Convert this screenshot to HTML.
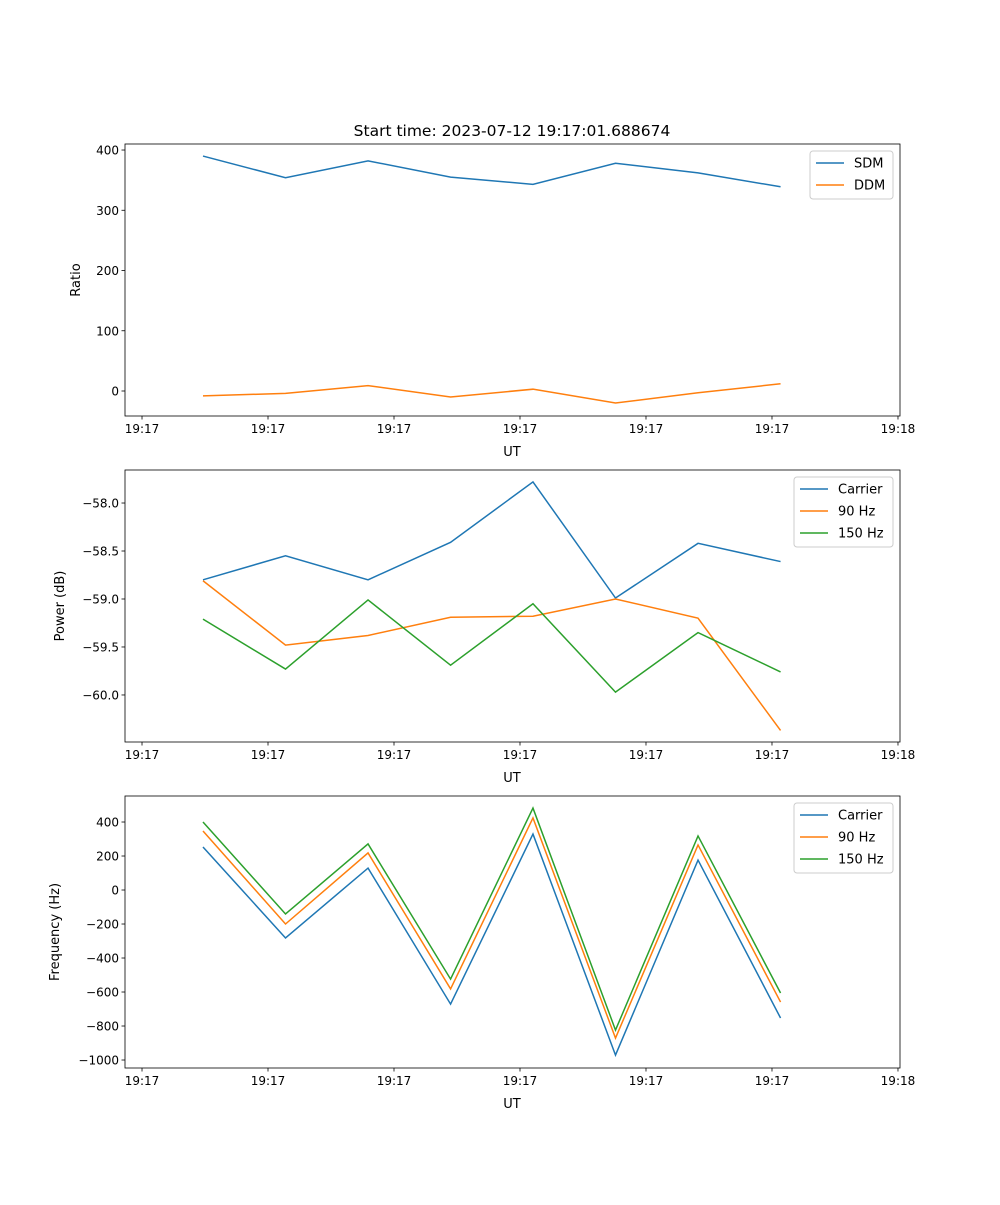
<!DOCTYPE html>
<html><head><meta charset="utf-8"><style>
body{margin:0;background:#fff;font-family:"Liberation Sans","DejaVu Sans",sans-serif}
svg text{font-family:"DejaVu Sans","Liberation Sans",sans-serif}
</style></head><body>
<svg id="fig" width="1000" height="1200" xmlns="http://www.w3.org/2000/svg"></svg>
<script>
const times = [4.84, 11.39, 17.94, 24.49, 31.03, 37.58, 44.13, 50.68];
const xTickVals = [0, 10, 20, 30, 40, 50, 60];
const xTickLabels = ["19:17","19:17","19:17","19:17","19:17","19:17","19:18"];
const sdm = [390, 354, 382, 355, 343, 378, 362, 339];
const ddm = [-8, -4, 9, -10, 3, -20, -3, 12];
const powCarrier = [-58.80, -58.55, -58.80, -58.41, -57.78, -58.99, -58.42, -58.61];
const pow90 = [-58.81, -59.48, -59.38, -59.19, -59.18, -59.00, -59.20, -60.37];
const pow150 = [-59.21, -59.73, -59.01, -59.69, -59.05, -59.97, -59.35, -59.76];
const freqCarrier = [253, -282, 129, -671, 329, -971, 176, -753];
const freq90 = [347, -200, 218, -582, 424, -871, 265, -659];
const freq150 = [400, -141, 271, -524, 482, -824, 318, -606];
const ticks1 = [0, 100, 200, 300, 400];
const ticks1Labels = ["0","100","200","300","400"];
const ticks2 = [-60.0, -59.5, -59.0, -58.5, -58.0];
const ticks2Labels = ["\u221260.0","\u221259.5","\u221259.0","\u221258.5","\u221258.0"];
const ticks3 = [-1000, -800, -600, -400, -200, 0, 200, 400];
const ticks3Labels = ["\u22121000","\u2212800","\u2212600","\u2212400","\u2212200","0","200","400"];

const NS="http://www.w3.org/2000/svg";
const svg=document.getElementById('fig');
function mk(tag,attrs,parent){const e=document.createElementNS(NS,tag);for(const k in attrs)e.setAttribute(k,attrs[k]);(parent||svg).appendChild(e);return e;}
const L=125,R=900,XMIN=-1.35,XMAX=60.16;
const xs=t=>L+(t-XMIN)/(XMAX-XMIN)*(R-L);
const C={blue:"#1f77b4",orange:"#ff7f0e",green:"#2ca02c"};

function panel(name,top,bot,ymin,ymax,yt,ytl,ylabel,series,leg){
  const g=mk('g',{});
  
  
  const ys=v=>bot-(v-ymin)/(ymax-ymin)*(bot-top);
  series.forEach(s=>{
    const p=mk('polyline',{points:s.v.map((v,i)=>xs(times[i])+','+ys(v)).join(' '),fill:'none',stroke:s.c,'stroke-width':1.5},g);
    
    
  });
  const fr=mk('rect',{x:L,y:top,width:R-L,height:bot-top,fill:'none',stroke:'#000','stroke-width':0.8},g);
  
  
  xTickVals.forEach((t,i)=>{
    const x=xs(t);
    mk('line',{x1:x,x2:x,y1:bot,y2:bot+3.5,stroke:'#000','stroke-width':0.8},g);
    const tx=mk('text',{x:x,y:bot+17,'font-size':12,'text-anchor':'middle'},g);tx.textContent=xTickLabels[i];
    
    
  });
  const xl=mk('text',{x:512,y:bot+40,'font-size':13,'text-anchor':'middle'},g);xl.textContent='UT';
  
  
  yt.forEach((v,i)=>{
    const y=ys(v);
    mk('line',{x1:L-3.5,x2:L,y1:y,y2:y,stroke:'#000','stroke-width':0.8},g);
    const tx=mk('text',{x:L-6,y:y+4.5,'font-size':12,'text-anchor':'end'},g);tx.textContent=ytl[i];
    
    
  });
  const yl=mk('text',{x:0,y:0,'font-size':13,'text-anchor':'middle',transform:`translate(${leg.yx},${(top+bot)/2}) rotate(-90)`},g);yl.textContent=ylabel;
  
  
  const lg=mk('g',{},g);
  
  
  mk('rect',{x:leg.x,y:top+7,width:R-7-leg.x,height:series.length*22+4,rx:3,fill:'#fff',stroke:'#ccc','stroke-width':1},lg);
  series.forEach((s,i)=>{
    const y=top+19+i*22;
    mk('line',{x1:leg.x+6,x2:leg.x+34,y1:y,y2:y,stroke:s.c,'stroke-width':1.5},lg);
    const tx=mk('text',{x:leg.x+44,y:y+4.5,'font-size':13},lg);tx.textContent=s.label;
    
    
  });
}
const tt=mk('text',{x:512,y:136,'font-size':15.5,'text-anchor':'middle'});tt.textContent='Start time: 2023-07-12 19:17:01.688674';


panel('ratio-panel',144,416,-41.5,410,ticks1,ticks1Labels,'Ratio',
  [{id:'sdm',v:sdm,c:C.blue,label:'SDM'},{id:'ddm',v:ddm,c:C.orange,label:'DDM'}],{x:810,yx:80});
panel('power-panel',470,742,-60.49,-57.656,ticks2,ticks2Labels,'Power (dB)',
  [{id:'carrier',v:powCarrier,c:C.blue,label:'Carrier'},{id:'90hz',v:pow90,c:C.orange,label:'90 Hz'},{id:'150hz',v:pow150,c:C.green,label:'150 Hz'}],{x:794,yx:64});
panel('frequency-panel',796,1068,-1047,553,ticks3,ticks3Labels,'Frequency (Hz)',
  [{id:'carrier',v:freqCarrier,c:C.blue,label:'Carrier'},{id:'90hz',v:freq90,c:C.orange,label:'90 Hz'},{id:'150hz',v:freq150,c:C.green,label:'150 Hz'}],{x:794,yx:59});
</script>
</body></html>
